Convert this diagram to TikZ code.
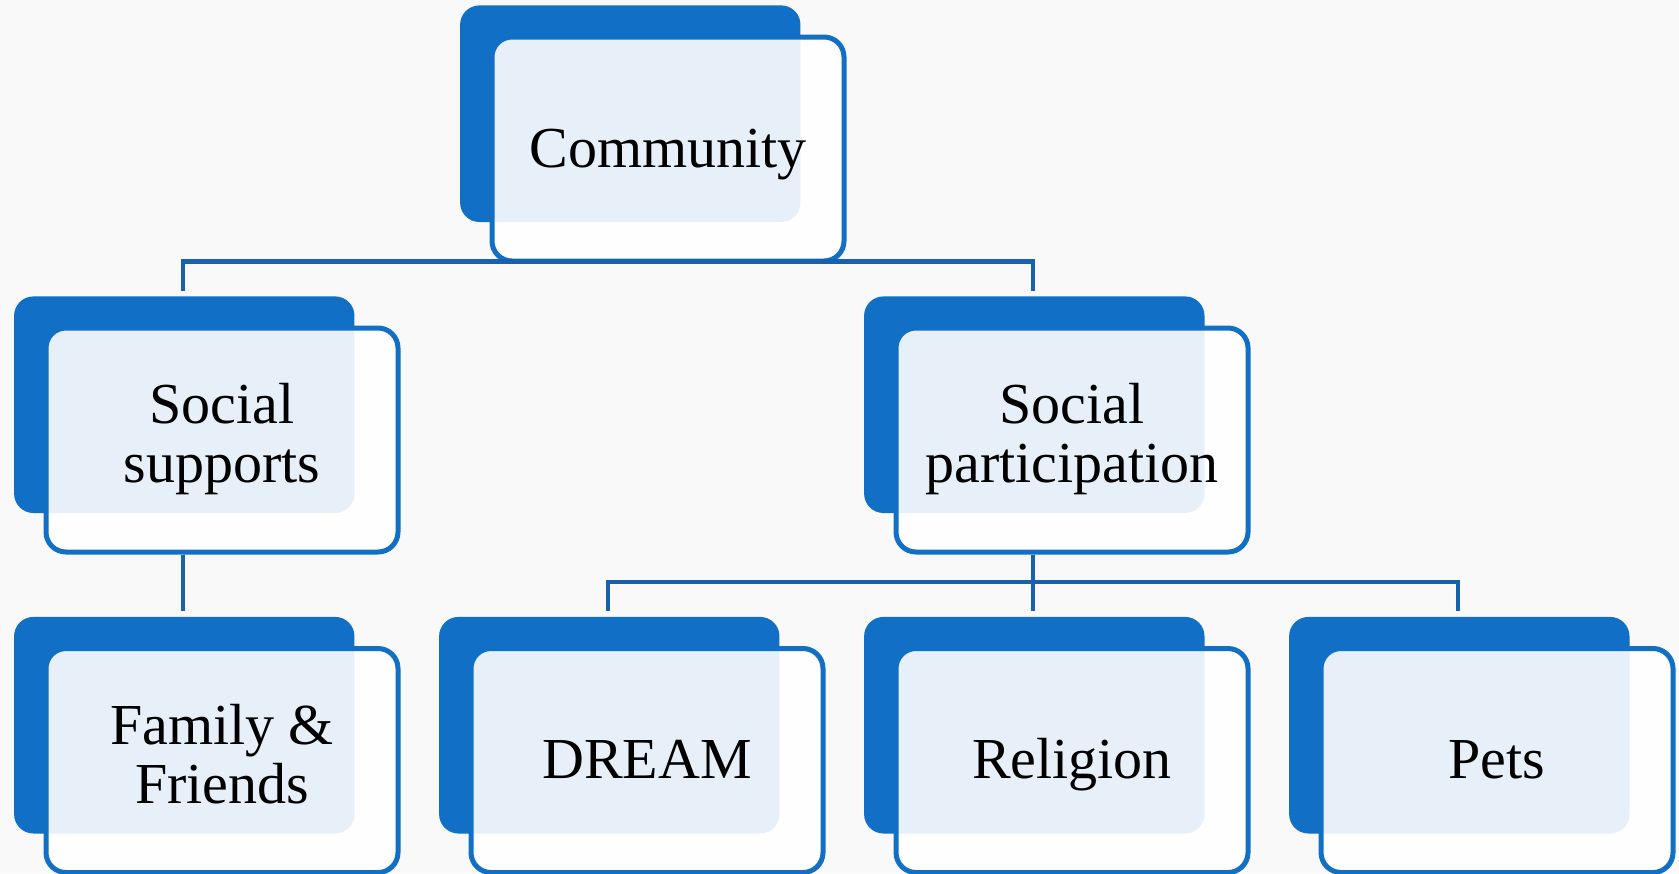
\documentclass[tikz,border=0pt]{standalone}
\usepackage{fontspec}
\setmainfont{Liberation Serif}
\usetikzlibrary{shadows,trees}
\definecolor{boxblue}{HTML}{1170C6}
\definecolor{linkblue}{HTML}{1861AE}
\definecolor{paper}{HTML}{F9F9F9}
\begin{document}
\begin{tikzpicture}[
    level 1/.style = {grow via three points={one child at (-10.5pt,-145.5pt) and two children at (-223pt,-145.5pt) and (202pt,-145.5pt)}},
    level 2/.style = {grow via three points={one child at (0pt,-160.25pt) and two children at (-106.25pt,-160.25pt) and (106.25pt,-160.25pt)}},
    every node/.style = {shape=rectangle, rounded corners=10pt, draw=boxblue, line width=2.5pt,
        fill=white, fill opacity=0.9, text opacity=1, align=center,
        minimum width=176pt, minimum height=112pt,
        font=\fontsize{29}{29.5}\selectfont,
        execute at begin node={\rule{0pt}{25pt}}, execute at end node={\rule[-7pt]{0pt}{7pt}},
        general shadow={fill=boxblue, fill opacity=1, shadow scale=0.967, shadow xshift=-19.5pt, shadow yshift=18.25pt}},
    edge from parent/.style = {draw=linkblue, line width=2.25pt, sharp corners},
    edge from parent path = {([xshift=-19.5pt]\tikzparentnode.south) |- ([shift={(-19.5pt,32pt)}]\tikzchildnode.north) -- ([shift={(-19.5pt,17.5pt)}]\tikzchildnode.north)}
  ]
  \fill[paper] (0,0) rectangle (839.5pt,-436.5pt);
  \useasboundingbox (0,0) rectangle (839.5pt,-436.5pt);
  \node (community) at (334pt,-74.5pt) {Community}
    child { node (supports) {Social\\supports}
        child { node (family) {Family \&\\Friends} }
    }
    child { node (participation) {Social\\participation}
        child { node (dream) {DREAM} }
        child { node (religion) {Religion} }
        child { node (pets) {Pets} }
    };
\end{tikzpicture}
\end{document}
